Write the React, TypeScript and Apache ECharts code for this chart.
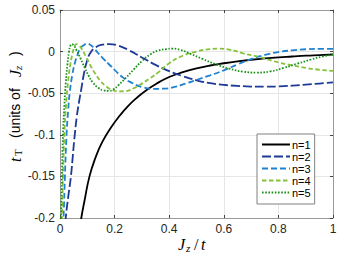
import React, { useEffect, useRef } from "react";
import * as echarts from "echarts";

const seriesNames = ["n=1", "n=2", "n=3", "n=4", "n=5"];
const seriesColors = ["#000000", "#1c3a96", "#1f82d0", "#86c13a", "#179317"];
const seriesDash: (string | number[])[] = ["solid", [9, 3], [6, 3], [4.5, 2.5], [1.6, 1.6]];

const xTicks = [0, 0.2, 0.4, 0.6, 0.8, 1];
const xTickLabels = ["0", "0.2", "0.4", "0.6", "0.8", "1"];
const yTicks = [-0.2, -0.15, -0.1, -0.05, 0, 0.05];
const yTickLabels = ["-0.2", "-0.15", "-0.1", "-0.05", "0", "0.05"];

const n1 = [[0.07,-0.219],[0.078,-0.2],[0.09,-0.179],[0.108,-0.15],[0.13,-0.1275],[0.155,-0.1086],[0.188,-0.0907],[0.22,-0.0765],[0.25,-0.0652],[0.28,-0.0559],[0.32,-0.0455],[0.36,-0.0373],[0.4,-0.0305],[0.45,-0.0247],[0.5,-0.0202],[0.55,-0.0167],[0.6,-0.014],[0.65,-0.0117],[0.7,-0.0098],[0.75,-0.0082],[0.8,-0.0069],[0.85,-0.0059],[0.9,-0.0049],[0.95,-0.0042],[1,-0.0035]];
const n2 = [[0.017,-0.22],[0.021,-0.2],[0.03,-0.175],[0.04,-0.15],[0.047,-0.125],[0.054,-0.1],[0.062,-0.077],[0.07,-0.06],[0.078,-0.045],[0.088,-0.026],[0.1,-0.01],[0.112,-0.001],[0.13,0.005],[0.15,0.008],[0.18,0.009],[0.21,0.0075],[0.25,0.002],[0.3,-0.007],[0.35,-0.016],[0.4,-0.0235],[0.45,-0.0295],[0.5,-0.0345],[0.55,-0.038],[0.6,-0.04],[0.65,-0.0412],[0.7,-0.042],[0.75,-0.0422],[0.8,-0.0418],[0.85,-0.041],[0.9,-0.0398],[0.95,-0.0384],[1,-0.037]];
const n3 = [[0.01,-0.22],[0.013,-0.2],[0.018,-0.15],[0.024,-0.1],[0.03,-0.07],[0.036,-0.048],[0.045,-0.028],[0.055,-0.013],[0.065,-0.003],[0.075,0.004],[0.088,0.008],[0.1,0.0095],[0.112,0.008],[0.125,0.004],[0.14,-0.002],[0.16,-0.009],[0.18,-0.0155],[0.2,-0.022],[0.23,-0.031],[0.26,-0.037],[0.3,-0.0425],[0.34,-0.0448],[0.38,-0.0445],[0.42,-0.0425],[0.46,-0.0385],[0.5,-0.034],[0.55,-0.0285],[0.6,-0.0225],[0.65,-0.0155],[0.7,-0.009],[0.75,-0.004],[0.8,-0.0005],[0.85,0.0015],[0.9,0.0028],[0.95,0.0033],[1,0.0033]];
const n4 = [[0.005,-0.22],[0.007,-0.2],[0.011,-0.15],[0.016,-0.1],[0.022,-0.065],[0.03,-0.035],[0.038,-0.015],[0.046,-0.002],[0.053,0.006],[0.06,0.009],[0.068,0.008],[0.08,0.003],[0.095,-0.006],[0.11,-0.016],[0.13,-0.027],[0.15,-0.036],[0.17,-0.042],[0.19,-0.046],[0.215,-0.0478],[0.24,-0.0475],[0.27,-0.044],[0.3,-0.0385],[0.33,-0.032],[0.36,-0.025],[0.4,-0.014],[0.45,-0.005],[0.5,0.0],[0.55,0.003],[0.58,0.0035],[0.62,0.0025],[0.67,-0.002],[0.73,-0.0065],[0.8,-0.013],[0.85,-0.0165],[0.9,-0.0195],[0.95,-0.0218],[1,-0.0232]];
const n5 = [[0.003,-0.22],[0.004,-0.2],[0.007,-0.15],[0.011,-0.1],[0.016,-0.065],[0.021,-0.038],[0.027,-0.016],[0.033,0.0],[0.038,0.007],[0.043,0.009],[0.05,0.0075],[0.06,0.002],[0.075,-0.008],[0.09,-0.019],[0.105,-0.029],[0.12,-0.037],[0.14,-0.0435],[0.16,-0.0467],[0.178,-0.0472],[0.195,-0.0455],[0.215,-0.04],[0.24,-0.032],[0.27,-0.0215],[0.3,-0.0115],[0.33,-0.0035],[0.36,0.0012],[0.39,0.003],[0.41,0.0035],[0.44,0.0022],[0.48,-0.003],[0.52,-0.0085],[0.57,-0.0152],[0.62,-0.0205],[0.67,-0.024],[0.72,-0.0252],[0.77,-0.0238],[0.82,-0.0195],[0.87,-0.0145],[0.92,-0.0095],[0.96,-0.006],[1,-0.0035]];
const seriesData = [n1, n2, n3, n4, n5];

const SANS = "'Liberation Sans', Arial, sans-serif";
const SERIF = "'Liberation Serif', 'Times New Roman', serif";

function fmtTick(ticks: number[], labels: string[]) {
  return (v: number) => {
    for (let i = 0; i < ticks.length; i++) {
      if (Math.abs(ticks[i] - v) < 1e-9) return labels[i];
    }
    return "";
  };
}

export default function App() {
  const ref = useRef<HTMLDivElement>(null);
  useEffect(() => {
    if (!ref.current) return;
    const chart = echarts.init(ref.current, undefined, { renderer: "svg" });
    const axisCommon = {
      axisLine: { show: true, onZero: false, lineStyle: { color: "#9a9a9a", width: 1 } },
      axisTick: { show: true, inside: true, length: 3, lineStyle: { color: "#444", width: 1 } },
    };
    const option: any = {
      animation: false,
      backgroundColor: "#ffffff",
      grid: { left: 60, right: 16, top: 10, bottom: 41, containLabel: false },
      xAxis: [
        {
          type: "value", min: 0, max: 1, interval: 0.2, position: "bottom",
          ...axisCommon,
          axisLabel: { formatter: fmtTick(xTicks, xTickLabels), color: "#262626", fontSize: 12, fontFamily: SANS, margin: 5 },
          splitLine: { show: true, lineStyle: { color: "#e6e6e6", width: 1 } },
        },
        {
          type: "value", min: 0, max: 1, interval: 0.2, position: "top",
          ...axisCommon,
          axisLabel: { show: false },
          splitLine: { show: false },
        },
      ],
      yAxis: [
        {
          type: "value", min: -0.2, max: 0.05, interval: 0.05, position: "left",
          ...axisCommon,
          axisLabel: { formatter: fmtTick(yTicks, yTickLabels), color: "#262626", fontSize: 12, fontFamily: SANS, margin: 5 },
          splitLine: { show: true, lineStyle: { color: "#e6e6e6", width: 1 } },
        },
        {
          type: "value", min: -0.2, max: 0.05, interval: 0.05, position: "right",
          ...axisCommon,
          axisLabel: { show: false },
          splitLine: { show: false },
        },
      ],
      legend: {
        orient: "vertical",
        left: 257,
        top: 134,
        padding: [5, 4, 6, 4],
        itemWidth: 28,
        itemHeight: 10,
        itemGap: 1,
        backgroundColor: "#ffffff",
        borderColor: "#808080",
        borderWidth: 1,
        borderRadius: 0,
        itemStyle: { opacity: 0 },
        textStyle: { fontSize: 11, color: "#000", fontFamily: SANS, padding: [0, 0, 0, -3] },
        data: seriesNames,
      },
      series: seriesNames.map((name, i) => ({
        name,
        type: "line",
        data: seriesData[i],
        showSymbol: false,
        symbol: "none",
        smooth: 0.5,
        clip: true,
        z: 2 + i,
        lineStyle: { color: seriesColors[i], width: 1.8, type: seriesDash[i] },
        itemStyle: { color: seriesColors[i] },
      })),
      graphic: [
        {
          type: "group",
          x: 15,
          y: 162,
          rotation: Math.PI / 2,
          silent: true,
          children: [
            { type: "text", x: 0, y: 0, style: { text: "t", font: `italic 16px ${SERIF}`, fill: "#000", textVerticalAlign: "middle" } },
            { type: "text", x: 6, y: 3, style: { text: "T", font: `11px ${SERIF}`, fill: "#000", textVerticalAlign: "middle" } },
            { type: "text", x: 24, y: 0, style: { text: "(units of", font: `14px ${SANS}`, fill: "#000", textVerticalAlign: "middle" } },
            { type: "text", x: 85, y: 0, style: { text: "J", font: `italic 16px ${SERIF}`, fill: "#000", textVerticalAlign: "middle" } },
            { type: "text", x: 92, y: 3, style: { text: "z", font: `italic 11px ${SERIF}`, fill: "#000", textVerticalAlign: "middle" } },
            { type: "text", x: 106, y: 0, style: { text: ")", font: `14px ${SANS}`, fill: "#000", textVerticalAlign: "middle" } },
          ],
        },
        {
          type: "group",
          x: 178,
          y: 244,
          silent: true,
          children: [
            { type: "text", x: 0, y: 0, style: { text: "J", font: `italic 16px ${SERIF}`, fill: "#000", textVerticalAlign: "middle" } },
            { type: "text", x: 8, y: 4, style: { text: "z", font: `italic 11px ${SERIF}`, fill: "#000", textVerticalAlign: "middle" } },
            { type: "text", x: 16, y: 0, style: { text: "/", font: `16px ${SERIF}`, fill: "#000", textVerticalAlign: "middle" } },
            { type: "text", x: 23, y: 0, style: { text: "t", font: `italic 16px ${SERIF}`, fill: "#000", textVerticalAlign: "middle" } },
          ],
        },
      ],
    };
    chart.setOption(option);
    return () => chart.dispose();
  }, []);
  return <div ref={ref} style={{ position: "fixed", left: 0, top: 0, width: 349, height: 259 }} />;
}
